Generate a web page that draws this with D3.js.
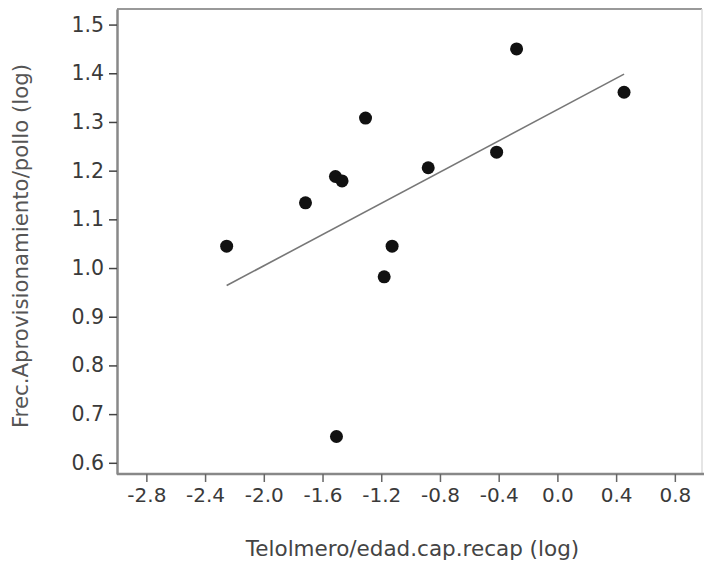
<!DOCTYPE html>
<html>
<head>
<meta charset="utf-8">
<script src="https://cdn.jsdelivr.net/npm/d3@7"></script>
<style>
  html, body { margin: 0; padding: 0; background: #fff; }
  svg { display: block; }
  text { font-family: "DejaVu Sans", Verdana, sans-serif; }
</style>
</head>
<body>
<svg id="chart" width="704" height="567"></svg>
<script>
// Data
const telomeroLog = [-2.253, -1.716, -1.512, -1.467, -1.307, -1.126, -1.180, -0.880, -0.278, -0.414, 0.454, -1.505];
const frecLog     = [ 1.045,  1.134,  1.188,  1.179,  1.308,  1.045,  0.982,  1.206,  1.450,  1.238, 1.361, 0.654];
const xTicks = [-2.8, -2.4, -2.0, -1.6, -1.2, -0.8, -0.4, 0.0, 0.4, 0.8];
const yTicks = [0.6, 0.7, 0.8, 0.9, 1.0, 1.1, 1.2, 1.3, 1.4, 1.5];
const xTitle = "Telolmero/edad.cap.recap (log)";
const yTitle = "Frec.Aprovisionamiento/pollo (log)";

const W = 704, H = 567;
const m = { left: 117, top: 9, right: 702, bottom: 474 };

const svg = d3.select("#chart");

const x = d3.scaleLinear().domain([-3.0, 0.985]).range([m.left, m.right]);
const y = d3.scaleLinear().domain([0.577, 1.532]).range([m.bottom, m.top]);
const fmt = v => (v < 0 ? "-" : "") + Math.abs(v).toFixed(1);

// frame (top & right borders, faint)
svg.append("line").attr("x1", m.left).attr("x2", m.right).attr("y1", m.top).attr("y2", m.top)
  .attr("stroke", "#999").attr("stroke-width", 2);
svg.append("line").attr("x1", m.right).attr("x2", m.right).attr("y1", m.top).attr("y2", m.bottom)
  .attr("stroke", "#ddd").attr("stroke-width", 1.5);

// X axis
const xAxis = svg.append("g").attr("transform", `translate(0,${m.bottom})`)
  .call(d3.axisBottom(x).tickValues(xTicks).tickFormat(fmt).tickSize(8).tickPadding(6).tickSizeOuter(0));
xAxis.select(".domain").attr("stroke", "#888").attr("stroke-width", 2.5)
  .attr("d", `M${m.left},0H${W}`);
xAxis.selectAll(".tick line").attr("stroke", "#666").attr("stroke-width", 1.5);
xAxis.selectAll(".tick text").attr("font-size", 20).attr("fill", "#3a3a3a")
  .attr("font-family", "DejaVu Sans");

// Y axis
const yAxis = svg.append("g").attr("transform", `translate(${m.left},0)`)
  .call(d3.axisLeft(y).tickValues(yTicks).tickFormat(fmt).tickSize(8).tickPadding(5).tickSizeOuter(0));
yAxis.select(".domain").attr("stroke", "#888").attr("stroke-width", 2.5);
yAxis.selectAll(".tick line").attr("stroke", "#444").attr("stroke-width", 1.5);
yAxis.selectAll(".tick text").attr("font-size", 20.5).attr("fill", "#3a3a3a")
  .attr("font-family", "DejaVu Sans");

// Regression line (least squares over the data)
const n = telomeroLog.length;
const mx = d3.mean(telomeroLog), my = d3.mean(frecLog);
let sxy = 0, sxx = 0;
for (let i = 0; i < n; i++) {
  sxy += (telomeroLog[i] - mx) * (frecLog[i] - my);
  sxx += (telomeroLog[i] - mx) ** 2;
}
const slope = sxy / sxx, icpt = my - slope * mx;
const [xmin, xmax] = d3.extent(telomeroLog);
svg.append("line")
  .attr("x1", x(xmin)).attr("y1", y(icpt + slope * xmin))
  .attr("x2", x(xmax)).attr("y2", y(icpt + slope * xmax))
  .attr("stroke", "#777").attr("stroke-width", 1.6);

// Points
svg.append("g").selectAll("circle")
  .data(telomeroLog.map((v, i) => [v, frecLog[i]]))
  .join("circle")
  .attr("cx", d => x(d[0])).attr("cy", d => y(d[1]))
  .attr("r", 6.5).attr("fill", "#111");

// Titles
svg.append("text").attr("x", (m.left + m.right) / 2 + 3).attr("y", 556)
  .attr("text-anchor", "middle").attr("font-size", 21.5).attr("fill", "#444")
  .text(xTitle);
svg.append("text").attr("transform", `translate(28,${246}) rotate(-90)`)
  .attr("text-anchor", "middle").attr("font-size", 21.3).attr("fill", "#555")
  .text(yTitle);
</script>
</body>
</html>
